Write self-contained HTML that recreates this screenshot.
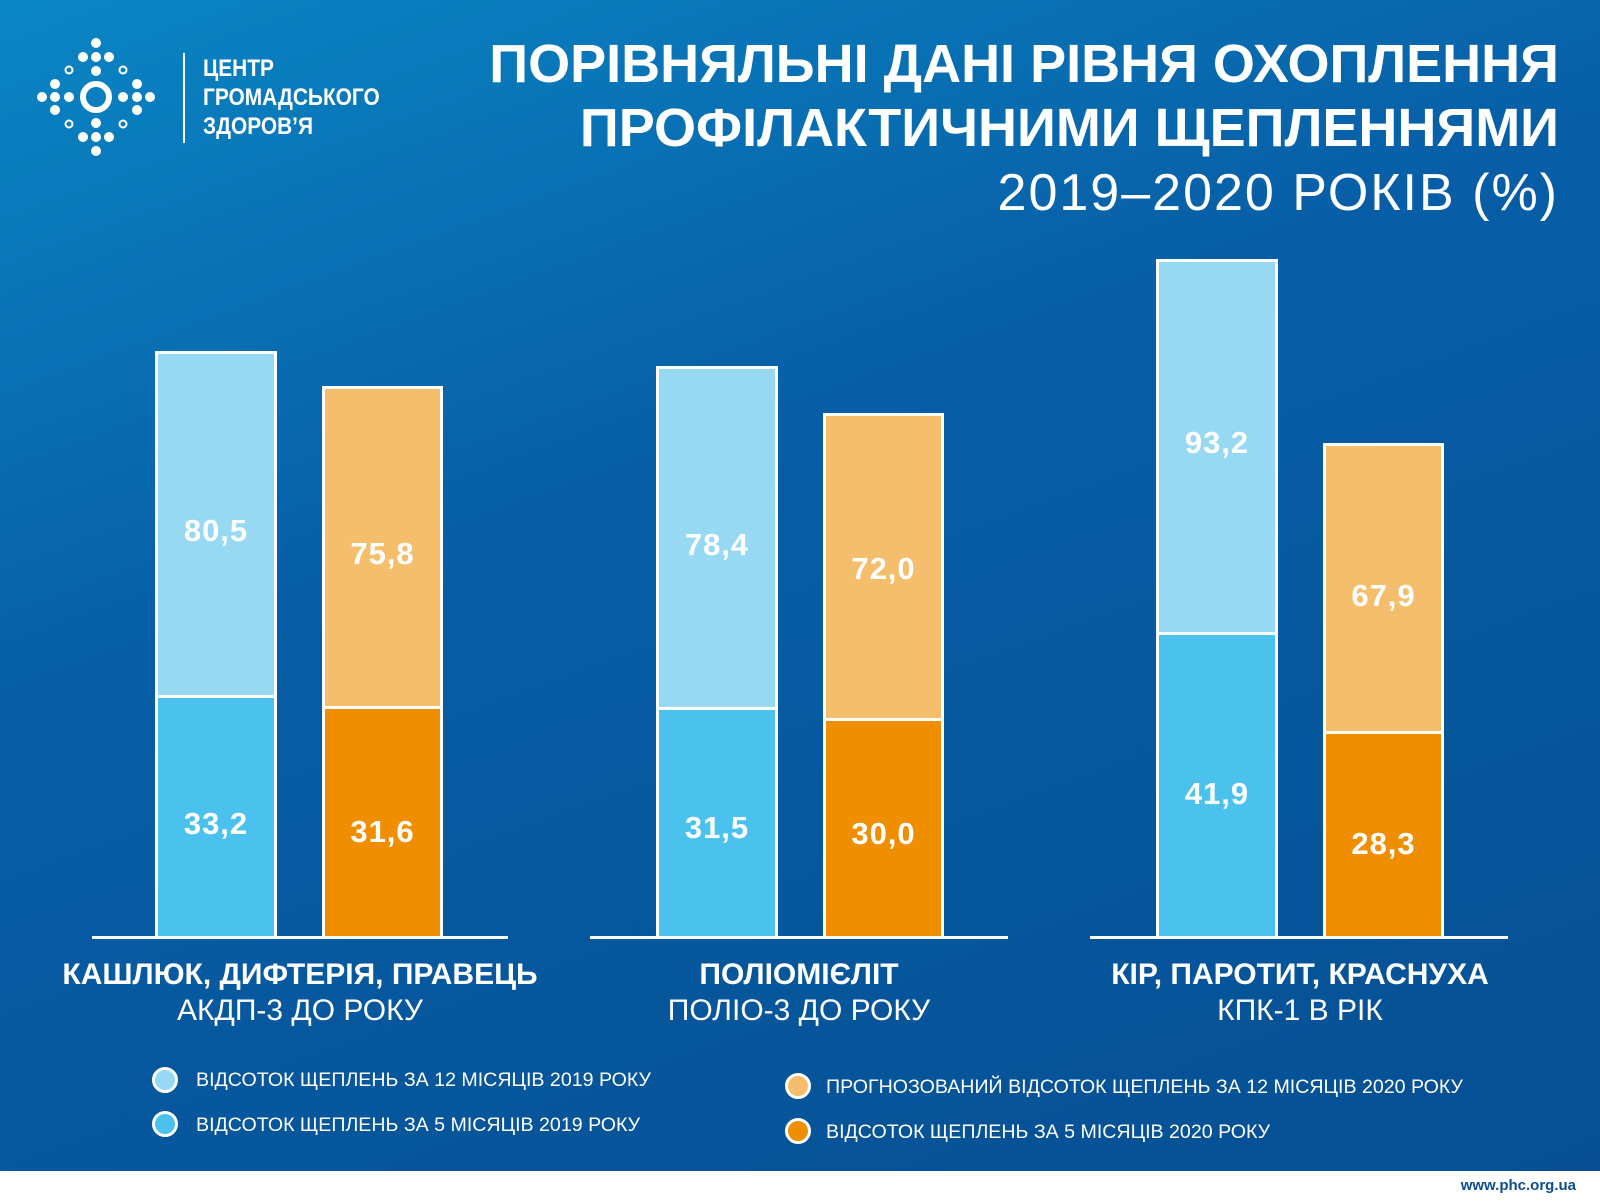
<!DOCTYPE html>
<html><head><meta charset="utf-8"><style>
*{margin:0;padding:0;box-sizing:border-box}
body{width:1600px;height:1201px;position:relative;overflow:hidden;background:#fff;font-family:"Liberation Sans",sans-serif}
#bg{position:absolute;left:0;top:0;width:1600px;height:1171px;background:linear-gradient(160deg,#0a86c4 0%,#075ea6 40%,#064f93 100%)}
.bar{position:absolute;border:3px solid #fff}
.v{position:absolute;color:#fff;font-weight:bold;font-size:31px;text-align:center;letter-spacing:1px}
.base{position:absolute;height:3px;background:#fff}
.g{position:absolute;color:#fff;text-align:center;width:500px}
.lc{position:absolute;width:26px;height:26px;border-radius:50%;border:3px solid #fff}
.lt{position:absolute;color:#fff;font-size:19.6px}
.t{position:absolute;right:41px;color:#fff;text-align:right;white-space:nowrap}
</style></head><body>
<div id="bg"></div>
<svg style="position:absolute;left:0;top:0" width="200" height="200">
<g fill="#fff">
<circle cx="96" cy="43" r="5"/><circle cx="83" cy="57" r="5"/><circle cx="96" cy="57" r="5"/><circle cx="109" cy="57" r="5"/><circle cx="96" cy="71" r="5"/>
<circle cx="96" cy="151" r="5"/><circle cx="83" cy="137" r="5"/><circle cx="96" cy="137" r="5"/><circle cx="109" cy="137" r="5"/><circle cx="96" cy="123" r="5"/>
<circle cx="42" cy="97" r="5"/><circle cx="55" cy="84" r="5"/><circle cx="55" cy="97" r="5"/><circle cx="55" cy="110" r="5"/><circle cx="69" cy="97" r="5"/>
<circle cx="150" cy="97" r="5"/><circle cx="137" cy="84" r="5"/><circle cx="137" cy="97" r="5"/><circle cx="137" cy="110" r="5"/><circle cx="123" cy="97" r="5"/>
</g>
<g fill="none" stroke="#fff"><circle cx="96" cy="97" r="13" stroke-width="6"/>
<circle cx="69" cy="70" r="3.5" stroke-width="2"/><circle cx="123" cy="70" r="3.5" stroke-width="2"/><circle cx="69" cy="124" r="3.5" stroke-width="2"/><circle cx="123" cy="124" r="3.5" stroke-width="2"/></g>
<rect x="183" y="53" width="2" height="90" fill="#fff"/>
</svg>
<div style="position:absolute;left:203px;top:54px;color:#fff;font-weight:bold;font-size:24px;line-height:29px;transform:scaleX(0.87);transform-origin:left">ЦЕНТР<br>ГРОМАДСЬКОГО<br>ЗДОРОВ’Я</div>
<div class="t" style="top:33px;font-size:54px;font-weight:bold;">ПОРІВНЯЛЬНІ ДАНІ РІВНЯ ОХОПЛЕННЯ</div>
<div class="t" style="top:97px;font-size:54px;font-weight:bold;">ПРОФІЛАКТИЧНИМИ ЩЕПЛЕННЯМИ</div>
<div class="t" style="top:163px;font-size:52px;letter-spacing:2px">2019–2020 РОКІВ (%)</div>

<!-- group1 -->
<div class="bar" style="left:155px;top:351px;width:122px;height:348px;background:#97d9f3"></div>
<div class="bar" style="left:155px;top:695px;width:122px;height:244px;background:#4bc2ed"></div>
<div class="bar" style="left:322px;top:386px;width:121px;height:324px;background:#f4be6c"></div>
<div class="bar" style="left:322px;top:706px;width:121px;height:233px;background:#ef8f00"></div>
<div class="base" style="left:92px;top:936px;width:416px"></div>
<div class="v" style="left:155px;top:513px;width:122px">80,5</div>
<div class="v" style="left:155px;top:806px;width:122px">33,2</div>
<div class="v" style="left:322px;top:536px;width:121px">75,8</div>
<div class="v" style="left:322px;top:814px;width:121px">31,6</div>
<!-- group2 -->
<div class="bar" style="left:656px;top:366px;width:122px;height:344px;background:#97d9f3"></div>
<div class="bar" style="left:656px;top:707px;width:122px;height:232px;background:#4bc2ed"></div>
<div class="bar" style="left:823px;top:413px;width:121px;height:309px;background:#f4be6c"></div>
<div class="bar" style="left:823px;top:718px;width:121px;height:221px;background:#ef8f00"></div>
<div class="base" style="left:590px;top:936px;width:418px"></div>
<div class="v" style="left:656px;top:527px;width:122px">78,4</div>
<div class="v" style="left:656px;top:810px;width:122px">31,5</div>
<div class="v" style="left:823px;top:551px;width:121px">72,0</div>
<div class="v" style="left:823px;top:816px;width:121px">30,0</div>
<!-- group3 -->
<div class="bar" style="left:1156px;top:259px;width:122px;height:377px;background:#97d9f3"></div>
<div class="bar" style="left:1156px;top:632px;width:122px;height:307px;background:#4bc2ed"></div>
<div class="bar" style="left:1323px;top:443px;width:121px;height:292px;background:#f4be6c"></div>
<div class="bar" style="left:1323px;top:731px;width:121px;height:208px;background:#ef8f00"></div>
<div class="base" style="left:1090px;top:936px;width:418px"></div>
<div class="v" style="left:1156px;top:425px;width:122px">93,2</div>
<div class="v" style="left:1156px;top:776px;width:122px">41,9</div>
<div class="v" style="left:1323px;top:578px;width:121px">67,9</div>
<div class="v" style="left:1323px;top:826px;width:121px">28,3</div>

<div class="g" style="left:50px;top:958px;font-size:30px;font-weight:bold">КАШЛЮК, ДИФТЕРІЯ, ПРАВЕЦЬ</div>
<div class="g" style="left:50px;top:994px;font-size:30px">АКДП-3 ДО РОКУ</div>
<div class="g" style="left:549px;top:958px;font-size:30px;font-weight:bold">ПОЛІОМІЄЛІТ</div>
<div class="g" style="left:549px;top:994px;font-size:30px">ПОЛІО-3 ДО РОКУ</div>
<div class="g" style="left:1050px;top:958px;font-size:30px;font-weight:bold">КІР, ПАРОТИТ, КРАСНУХА</div>
<div class="g" style="left:1050px;top:994px;font-size:30px">КПК-1 В РІК</div>

<div class="lc" style="left:152px;top:1067px;background:#97d9f3"></div>
<div class="lt" style="left:196px;top:1069px">ВІДСОТОК ЩЕПЛЕНЬ ЗА 12 МІСЯЦІВ 2019 РОКУ</div>
<div class="lc" style="left:152px;top:1111px;background:#4bc2ed"></div>
<div class="lt" style="left:196px;top:1114px">ВІДСОТОК ЩЕПЛЕНЬ ЗА 5 МІСЯЦІВ 2019 РОКУ</div>
<div class="lc" style="left:785px;top:1073px;background:#f4be6c"></div>
<div class="lt" style="left:826px;top:1076px">ПРОГНОЗОВАНИЙ ВІДСОТОК ЩЕПЛЕНЬ ЗА 12 МІСЯЦІВ 2020 РОКУ</div>
<div class="lc" style="left:785px;top:1118px;background:#ef8f00"></div>
<div class="lt" style="left:826px;top:1121px">ВІДСОТОК ЩЕПЛЕНЬ ЗА 5 МІСЯЦІВ 2020 РОКУ</div>

<div style="position:absolute;right:24px;top:1177px;color:#0c4e8f;font-size:15px;font-weight:bold">www.phc.org.ua</div>
</body></html>
